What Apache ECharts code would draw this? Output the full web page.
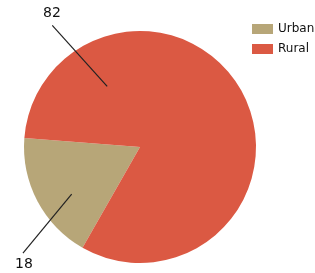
<!DOCTYPE html>
<html>
<head>
<meta charset="utf-8">
<script src="https://cdn.jsdelivr.net/npm/echarts@6/dist/echarts.min.js"></script>
<style>
  html, body { margin: 0; padding: 0; background: #fff; }
  #chart { width: 315px; height: 273px; }
</style>
</head>
<body>
<div id="chart"></div>
<script>
// data
var categories = ['Urban', 'Rural'];
var values = [18, 82];
var colors = ['#b7a678', '#db5943'];

// pie geometry (pixels)
var cx = 140, cy = 147, R = 116;

// leader lines: [innerR, innerAngle, outerR, outerAngle], angles in degrees (math, ccw from +x)
var leaders = [
    [83, 214.6, 158, 222.2],
    [69, 118.4, 150, 125.8]
];
var labelPos = [[24, 264], [52, 13]];

function polar(r, deg) {
    var a = deg * Math.PI / 180;
    return [cx + r * Math.cos(a), cy - r * Math.sin(a)];
}

var pieData = categories.map(function(name, i) {
    return { name: name, value: values[i], itemStyle: { color: colors[i] } };
});
// same slices again, transparent, only to carry labels above the fill
var overlayData = categories.map(function(name, i) {
    return { name: name, value: values[i], itemStyle: { color: 'rgba(0,0,0,0)' } };
});

var myChart = echarts.init(document.getElementById('chart'), null, { renderer: 'canvas' });
myChart.setOption({
    animation: false,
    legend: {
        orient: 'vertical',
        left: 247,
        top: 18,
        itemWidth: 21,
        itemHeight: 10,
        itemGap: 8,
        icon: 'rect',
        selectedMode: false,
        textStyle: { fontFamily: 'DejaVu Sans', fontSize: 12, color: '#111' },
        data: categories.map(function(name, i) {
            return { name: name, itemStyle: { color: colors[i] } };
        })
    },
    series: [{
        type: 'pie',
        z: 1,
        center: [cx, cy],
        radius: R,
        startAngle: 240.3,
        clockwise: true,
        silent: true,
        emphasis: { disabled: true },
        label: { show: false },
        labelLine: { show: false },
        data: pieData
    }, {
        type: 'pie',
        z: 5,
        center: [cx, cy],
        radius: R,
        startAngle: 240.3,
        clockwise: true,
        silent: true,
        legendHoverLink: false,
        emphasis: { disabled: true },
        data: overlayData,
        label: {
            show: true,
            position: 'outside',
            alignTo: 'none',
            overflow: 'none',
            formatter: '{c}',
            fontFamily: 'DejaVu Sans',
            fontSize: 14,
            color: '#111'
        },
        labelLine: {
            show: true,
            lineStyle: { color: '#222', width: 1.2 }
        },
        labelLayout: function(params) {
            var i = params.dataIndex;
            var l = leaders[i];
            return {
                x: labelPos[i][0],
                y: labelPos[i][1],
                width: 30,
                align: 'center',
                verticalAlign: 'middle',
                labelLinePoints: [polar(l[0], l[1]), polar(l[2], l[3]), polar(l[2], l[3])]
            };
        }
    }]
});
</script>
</body>
</html>
